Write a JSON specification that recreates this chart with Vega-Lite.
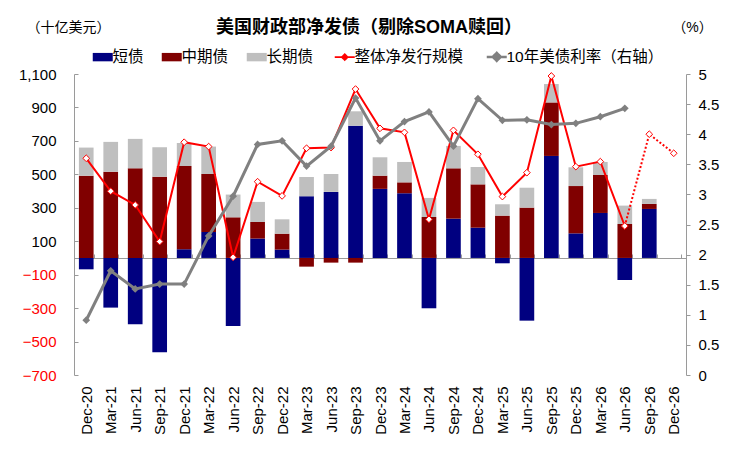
{
  "$schema": "https://vega.github.io/schema/vega-lite/v6.json",
  "width": 612,
  "height": 301,
  "autosize": {"type": "none"},
  "padding": {"left": 74, "top": 74, "right": 53, "bottom": 77},
  "background": "white",
  "config": {
    "view": {"stroke": null},
    "font": "Liberation Sans, Noto Sans CJK SC",
    "axis": {
      "grid": false,
      "labelFontSize": 15,
      "labelColor": "#000000",
      "labelFont": "Liberation Sans, Noto Sans CJK SC",
      "labelOverlap": false,
      "domainColor": "#9A9A9A",
      "tickColor": "#9A9A9A",
      "titleFont": "Liberation Sans, Noto Sans CJK SC",
      "titleFontWeight": "normal",
      "titleFontSize": 14,
      "titleColor": "#000000"
    }
  },
  "title": {
    "text": "美国财政部净发债（剔除SOMA赎回）",
    "fontSize": 18,
    "fontWeight": "bold",
    "font": "Liberation Sans, Noto Sans CJK SC",
    "color": "#000000",
    "anchor": "middle",
    "dx": -11,
    "dy": 17,
    "offset": 0
  },
  "datasets": {
    "bars": [
      {"q": "Dec-20", "type": "short", "v": -68}, {"q": "Dec-20", "type": "mid", "v": 492}, {"q": "Dec-20", "type": "long", "v": 168},
      {"q": "Mar-21", "type": "short", "v": -297}, {"q": "Mar-21", "type": "mid", "v": 516}, {"q": "Mar-21", "type": "long", "v": 178},
      {"q": "Jun-21", "type": "short", "v": -397}, {"q": "Jun-21", "type": "mid", "v": 536}, {"q": "Jun-21", "type": "long", "v": 176},
      {"q": "Sep-21", "type": "short", "v": -564}, {"q": "Sep-21", "type": "mid", "v": 486}, {"q": "Sep-21", "type": "long", "v": 176},
      {"q": "Dec-21", "type": "short", "v": 52}, {"q": "Dec-21", "type": "mid", "v": 498}, {"q": "Dec-21", "type": "long", "v": 138},
      {"q": "Mar-22", "type": "short", "v": 155}, {"q": "Mar-22", "type": "mid", "v": 347}, {"q": "Mar-22", "type": "long", "v": 164},
      {"q": "Jun-22", "type": "short", "v": -407}, {"q": "Jun-22", "type": "mid", "v": 243}, {"q": "Jun-22", "type": "long", "v": 136},
      {"q": "Sep-22", "type": "short", "v": 116}, {"q": "Sep-22", "type": "mid", "v": 99}, {"q": "Sep-22", "type": "long", "v": 120},
      {"q": "Dec-22", "type": "short", "v": 50}, {"q": "Dec-22", "type": "mid", "v": 95}, {"q": "Dec-22", "type": "long", "v": 86},
      {"q": "Mar-23", "type": "short", "v": 369}, {"q": "Mar-23", "type": "mid", "v": -52}, {"q": "Mar-23", "type": "long", "v": 115},
      {"q": "Jun-23", "type": "short", "v": 395}, {"q": "Jun-23", "type": "mid", "v": -28}, {"q": "Jun-23", "type": "long", "v": 107},
      {"q": "Sep-23", "type": "short", "v": 791}, {"q": "Sep-23", "type": "mid", "v": -28}, {"q": "Sep-23", "type": "long", "v": 86},
      {"q": "Dec-23", "type": "short", "v": 413}, {"q": "Dec-23", "type": "mid", "v": 79}, {"q": "Dec-23", "type": "long", "v": 110},
      {"q": "Mar-24", "type": "short", "v": 387}, {"q": "Mar-24", "type": "mid", "v": 65}, {"q": "Mar-24", "type": "long", "v": 122},
      {"q": "Jun-24", "type": "short", "v": -301}, {"q": "Jun-24", "type": "mid", "v": 245}, {"q": "Jun-24", "type": "long", "v": 114},
      {"q": "Sep-24", "type": "short", "v": 235}, {"q": "Sep-24", "type": "mid", "v": 301}, {"q": "Sep-24", "type": "long", "v": 134},
      {"q": "Dec-24", "type": "short", "v": 181}, {"q": "Dec-24", "type": "mid", "v": 259}, {"q": "Dec-24", "type": "long", "v": 104},
      {"q": "Mar-25", "type": "short", "v": -32}, {"q": "Mar-25", "type": "mid", "v": 253}, {"q": "Mar-25", "type": "long", "v": 68},
      {"q": "Jun-25", "type": "short", "v": -375}, {"q": "Jun-25", "type": "mid", "v": 301}, {"q": "Jun-25", "type": "long", "v": 119},
      {"q": "Sep-25", "type": "short", "v": 610}, {"q": "Sep-25", "type": "mid", "v": 320}, {"q": "Sep-25", "type": "long", "v": 110},
      {"q": "Dec-25", "type": "short", "v": 147}, {"q": "Dec-25", "type": "mid", "v": 283}, {"q": "Dec-25", "type": "long", "v": 112},
      {"q": "Mar-26", "type": "short", "v": 269}, {"q": "Mar-26", "type": "mid", "v": 227}, {"q": "Mar-26", "type": "long", "v": 78},
      {"q": "Jun-26", "type": "short", "v": -132}, {"q": "Jun-26", "type": "mid", "v": 203}, {"q": "Jun-26", "type": "long", "v": 110},
      {"q": "Sep-26", "type": "short", "v": 293}, {"q": "Sep-26", "type": "mid", "v": 30}, {"q": "Sep-26", "type": "long", "v": 30}
    ],
    "lines": [
      {"q": "Dec-20", "total": 596, "proj": null, "yield": 0.91},
      {"q": "Mar-21", "total": 399, "proj": null, "yield": 1.73},
      {"q": "Jun-21", "total": 317, "proj": null, "yield": 1.43},
      {"q": "Sep-21", "total": 98, "proj": null, "yield": 1.51},
      {"q": "Dec-21", "total": 692, "proj": null, "yield": 1.51},
      {"q": "Mar-22", "total": 666, "proj": null, "yield": 2.31},
      {"q": "Jun-22", "total": 4, "proj": null, "yield": 2.97},
      {"q": "Sep-22", "total": 456, "proj": null, "yield": 3.83},
      {"q": "Dec-22", "total": 371, "proj": null, "yield": 3.89},
      {"q": "Mar-23", "total": 656, "proj": null, "yield": 3.47},
      {"q": "Jun-23", "total": 660, "proj": null, "yield": 3.80},
      {"q": "Sep-23", "total": 1010, "proj": null, "yield": 4.60},
      {"q": "Dec-23", "total": 775, "proj": null, "yield": 3.89},
      {"q": "Mar-24", "total": 751, "proj": null, "yield": 4.21},
      {"q": "Jun-24", "total": 231, "proj": null, "yield": 4.37},
      {"q": "Sep-24", "total": 763, "proj": null, "yield": 3.80},
      {"q": "Dec-24", "total": 620, "proj": null, "yield": 4.59},
      {"q": "Mar-25", "total": 367, "proj": null, "yield": 4.23},
      {"q": "Jun-25", "total": 510, "proj": null, "yield": 4.24},
      {"q": "Sep-25", "total": 1088, "proj": null, "yield": 4.16},
      {"q": "Dec-25", "total": 546, "proj": null, "yield": 4.18},
      {"q": "Mar-26", "total": 576, "proj": null, "yield": 4.29},
      {"q": "Jun-26", "total": 191, "proj": 191, "yield": 4.43},
      {"q": "Sep-26", "total": null, "proj": 740, "yield": null},
      {"q": "Dec-26", "total": null, "proj": 626, "yield": null}
    ]
  },
  "encoding": {
    "x": {
      "field": "q",
      "type": "nominal",
      "sort": null,
      "scale": {
        "domain": ["Dec-20","Mar-21","Jun-21","Sep-21","Dec-21","Mar-22","Jun-22","Sep-22","Dec-22","Mar-23","Jun-23","Sep-23","Dec-23","Mar-24","Jun-24","Sep-24","Dec-24","Mar-25","Jun-25","Sep-25","Dec-25","Mar-26","Jun-26","Sep-26","Dec-26"],
        "paddingInner": 0.4,
        "paddingOuter": 0.2
      },
      "axis": {
        "title": null,
        "labelAngle": -90,
        "labelAlign": "right",
        "labelBaseline": "middle",
        "offset": -117,
        "tickBand": "extent",
        "tickSize": -4,
        "labelPadding": 132
      }
    }
  },
  "layer": [
    {
      "layer": [
        {
          "data": {"name": "bars"},
          "mark": {"type": "bar"},
          "encoding": {
            "y": {
              "field": "v",
              "type": "quantitative",
              "stack": "zero",
              "scale": {"domain": [-700, 1100], "nice": false, "zero": false},
              "axis": {
                "title": "（十亿美元）",
                "values": [-700, -500, -300, -100, 100, 300, 500, 700, 900, 1100],
                "tickCount": 30,
                "format": ",d",
                "labelOverlap": false,
                "tickSize": -4,
                "labelPadding": 22,
                "labelColor": {"condition": {"test": "datum.value < 0", "value": "#FF0000"}, "value": "#000000"},
                "titleAngle": 0,
                "titleX": -6,
                "titleY": -47,
                "titleAlign": "center",
                "titleBaseline": "middle"
              }
            },
            "color": {
              "field": "type",
              "type": "nominal",
              "scale": {
                "domain": ["short", "mid", "long", "total", "yield"],
                "range": ["#000080", "#800000", "#BFBFBF", "#FF0000", "#808080"]
              },
              "legend": {
                "title": null,
                "orient": "none",
                "legendX": 21,
                "legendY": -25,
                "direction": "horizontal",
                "columns": 5,
                "columnPadding": 17,
                "labelFontSize": 15.5,
                "labelFont": "Liberation Sans, Noto Sans CJK SC",
                "labelColor": "#000000",
                "labelOffset": 2,
                "labelLimit": 300,
                "symbolSize": 400,
                "labelExpr": "datum.value==='short' ? '短债' : datum.value==='mid' ? '中期债' : datum.value==='long' ? '长期债' : datum.value==='total' ? '整体净发行规模' : '10年美债利率（右轴）'",
                "encode": {
                  "symbols": {
                    "update": {
                      "shape": {"signal": "datum.value==='total' ? 'M-1,0H-0.3M0.3,0H1M0,-0.3L0.3,0L0,0.3L-0.3,0Z' : datum.value==='yield' ? 'M-1,0H1M0,-0.4L0.4,0L0,0.4L-0.4,0Z' : 'M-1,-0.42H1V0.42H-1Z'"},
                      "fill": {"signal": "datum.value==='short' ? '#000080' : datum.value==='mid' ? '#800000' : datum.value==='long' ? '#BFBFBF' : datum.value==='total' ? '#FFFFFF' : '#808080'"},
                      "stroke": {"signal": "datum.value==='total' ? '#FF0000' : datum.value==='yield' ? '#808080' : 'transparent'"},
                      "strokeWidth": {"signal": "datum.value==='total' ? 1.6 : datum.value==='yield' ? 2.5 : 0"},
                      "strokeDash": {"value": [1, 0]},
                      "opacity": {"value": 1},
                      "fillOpacity": {"value": 1},
                      "strokeOpacity": {"value": 1}
                    }
                  }
                }
              }
            },
            "order": {"field": "type", "sort": "descending"}
          }
        },
        {
          "data": {"name": "lines"},
          "transform": [{"filter": "isValid(datum.total)"}],
          "mark": {"type": "line", "strokeWidth": 2},
          "encoding": {
            "y": {"field": "total", "type": "quantitative", "axis": {"title": "（十亿美元）", "labelOverlap": false}},
            "color": {"datum": "total", "type": "nominal"}
          }
        },
        {
          "data": {"name": "lines"},
          "transform": [{"filter": "isValid(datum.proj)"}],
          "mark": {"type": "line", "strokeWidth": 2, "strokeDash": [2, 2]},
          "encoding": {
            "y": {"field": "proj", "type": "quantitative", "axis": {"title": "（十亿美元）", "labelOverlap": false}},
            "color": {"datum": "total", "type": "nominal"}
          }
        },
        {
          "data": {"name": "lines"},
          "transform": [{"filter": "isValid(datum.total)"}],
          "mark": {"type": "point", "shape": "diamond", "size": 45, "filled": false, "fill": "#FFFFFF", "fillOpacity": 1, "stroke": "#FF0000", "strokeWidth": 1, "opacity": 1},
          "encoding": {
            "y": {"field": "total", "type": "quantitative", "axis": {"title": "（十亿美元）", "labelOverlap": false}}
          }
        },
        {
          "data": {"name": "lines"},
          "transform": [{"filter": "isValid(datum.proj)"}],
          "mark": {"type": "point", "shape": "diamond", "size": 45, "filled": false, "fill": "#FFFFFF", "fillOpacity": 1, "stroke": "#FF0000", "strokeWidth": 1, "opacity": 1},
          "encoding": {
            "y": {"field": "proj", "type": "quantitative", "axis": {"title": "（十亿美元）", "labelOverlap": false}}
          }
        }
      ]
    },
    {
      "data": {"name": "lines"},
      "transform": [{"filter": "isValid(datum.yield)"}],
      "mark": {"type": "line", "strokeWidth": 3, "point": {"shape": "diamond", "size": 60, "filled": true, "opacity": 1}},
      "encoding": {
        "y": {
          "field": "yield",
          "type": "quantitative",
          "scale": {"domain": [0, 5], "nice": false, "zero": true},
          "axis": {
            "orient": "right",
            "title": "（%）",
            "values": [0, 0.5, 1, 1.5, 2, 2.5, 3, 3.5, 4, 4.5, 5],
            "tickCount": 30,
            "format": "~g",
            "tickSize": 4,
            "labelPadding": 8,
            "titleAngle": 0,
            "titleX": 6,
            "titleY": -47,
            "titleAlign": "center",
            "titleBaseline": "middle"
          }
        },
        "color": {"datum": "yield", "type": "nominal"}
      }
    }
  ],
  "resolve": {"scale": {"y": "independent"}}
}
